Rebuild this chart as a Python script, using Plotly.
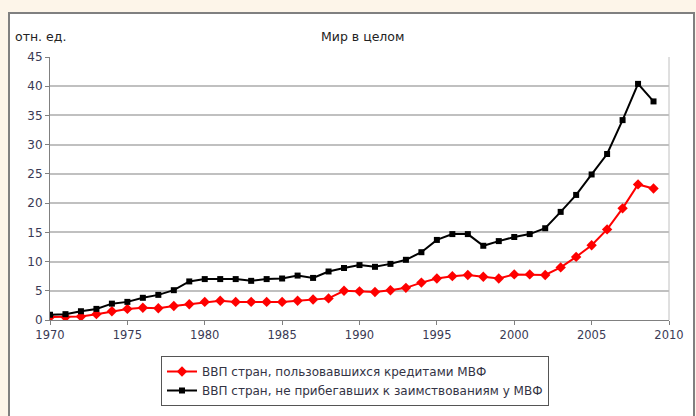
import plotly.graph_objects as go

years = list(range(1970, 2010))
imf_users = [0.5, 0.5, 0.6, 1.0, 1.5, 1.9, 2.1, 2.0, 2.4, 2.7,
             3.1, 3.3, 3.1, 3.1, 3.1, 3.1, 3.3, 3.5, 3.7, 5.0,
             4.9, 4.8, 5.1, 5.5, 6.4, 7.1, 7.5, 7.7, 7.4, 7.1,
             7.8, 7.8, 7.7, 9.0, 10.8, 12.8, 15.5, 19.1, 23.2, 22.5]
non_users = [0.9, 1.0, 1.5, 1.9, 2.8, 3.1, 3.8, 4.3, 5.1, 6.6,
             7.0, 7.0, 7.0, 6.7, 7.0, 7.1, 7.6, 7.2, 8.3, 8.9,
             9.4, 9.1, 9.6, 10.3, 11.6, 13.7, 14.7, 14.7, 12.7, 13.5,
             14.2, 14.7, 15.7, 18.5, 21.4, 24.9, 28.4, 34.2, 40.4, 37.4]
name_users = "ВВП стран, пользовавшихся кредитами МВФ"
name_non = "ВВП стран, не прибегавших к заимствованиям у МВФ"
title = "Мир в целом"
y_unit = "отн. ед."

fig = go.Figure()
fig.add_trace(go.Scatter(x=years, y=imf_users, name=name_users, mode="lines+markers",
                         line=dict(color="#ff0000", width=2),
                         marker=dict(symbol="diamond", size=8, color="#ff0000")))
fig.add_trace(go.Scatter(x=years, y=non_users, name=name_non, mode="lines+markers",
                         line=dict(color="#000000", width=2),
                         marker=dict(symbol="square", size=6, color="#000000")))

L, R, T, B = 50, 27, 57, 96
pw = 696 - L - R
ph = 416 - T - B

def px2x(px):
    return (px - L) / pw

def py2y(py):
    return (416 - B - py) / ph

FONT = "DejaVu Sans, Liberation Sans, sans-serif"

fig.update_layout(
    width=696, height=416,
    margin=dict(l=L, r=R, t=T, b=B, autoexpand=False),
    paper_bgcolor="#fdf5e9",
    plot_bgcolor="white",
    font=dict(family=FONT, size=12, color="#3a3a55"),
    showlegend=True,
    legend=dict(x=px2x(161), y=py2y(356), xanchor="left", yanchor="top",
                bordercolor="#555555", borderwidth=1, bgcolor="white",
                font=dict(size=12, color="#333344"), tracegroupgap=0,
                itemwidth=30),
    shapes=[
        dict(type="rect", xref="paper", yref="paper", layer="below",
             x0=px2x(9), x1=px2x(694), y0=py2y(430), y1=py2y(13),
             fillcolor="white", line=dict(color="#808080", width=2)),
    ],
    annotations=[
        dict(text=title, xref="paper", yref="paper", x=px2x(362), y=py2y(36),
             showarrow=False, font=dict(size=12.5, color="#222222"), xanchor="center", yanchor="middle"),
        dict(text=y_unit, xref="paper", yref="paper", x=px2x(13), y=py2y(36),
             showarrow=False, font=dict(size=12.5, color="#222222"), xanchor="left", yanchor="middle"),
    ],
)
fig.update_xaxes(range=[1970, 2010], dtick=5, tick0=1970, showgrid=False,
                 showline=True, linecolor="#808080", linewidth=1,
                 ticks="outside", ticklen=4, tickcolor="#808080",
                 tickfont=dict(size=11.5), mirror=False, zeroline=False)
fig.update_yaxes(range=[0, 45], dtick=5, showgrid=True, gridcolor="#c0c0c0", gridwidth=2,
                 showline=True, linecolor="#808080", linewidth=1,
                 ticks="outside", ticklen=4, tickcolor="#808080",
                 tickfont=dict(size=12), zeroline=False)
fig.add_shape(type="line", xref="paper", yref="paper", x0=1, x1=1, y0=0, y1=1,
              line=dict(color="#c0c0c0", width=1))

fig.write_html("out.html", config={"displayModeBar": False},
               post_script="document.body.style.margin='0';")
